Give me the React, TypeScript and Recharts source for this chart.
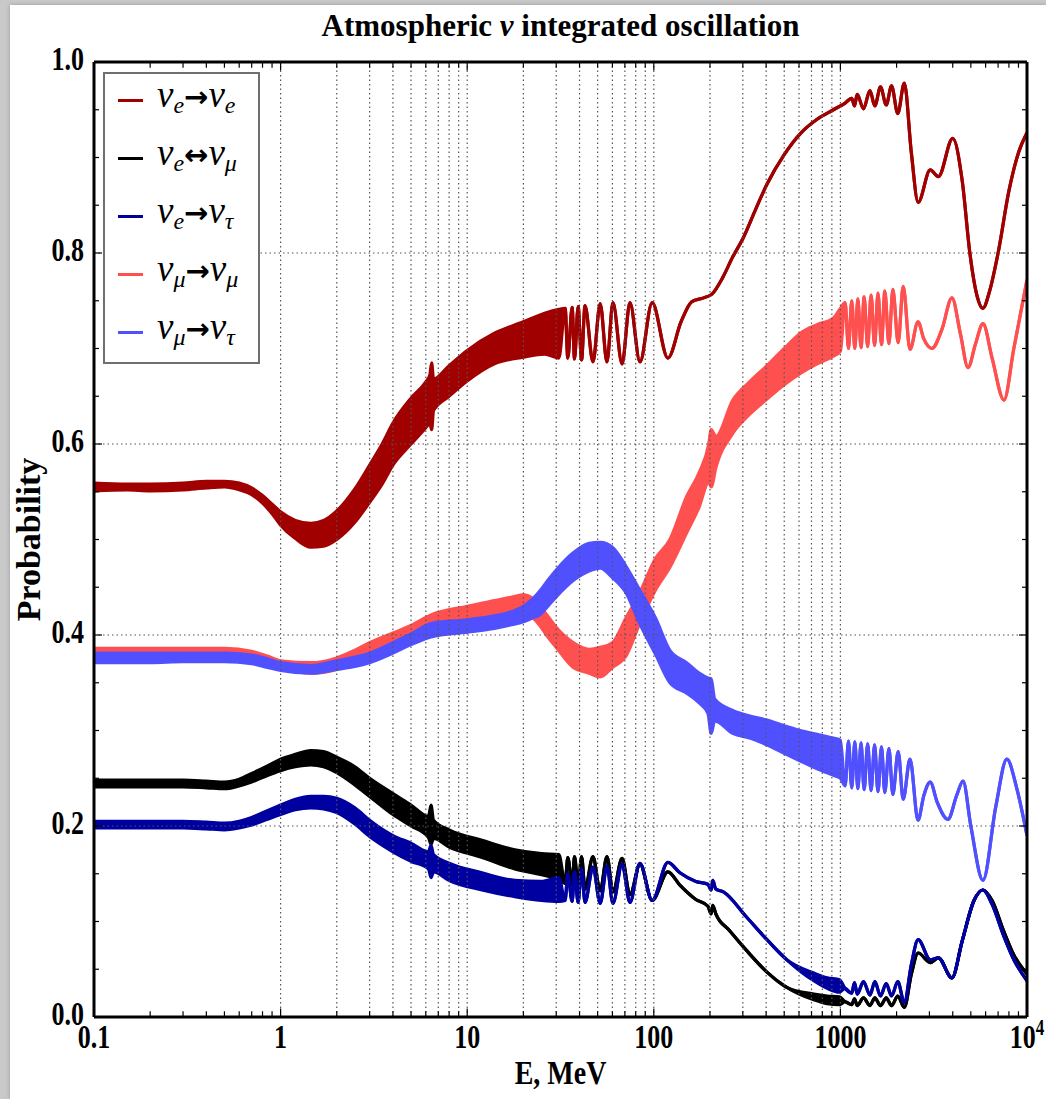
import React from "react";
import { ComposedChart, Area, XAxis, YAxis, ReferenceLine, Legend } from "recharts";

// [E in MeV, lower, upper] – upper omitted where the curve is a single line
type Pt = [number, number, number?];

const energyTicks = [0.1, 1, 10, 100, 1000, 10000];
const probTicks = [0, 0.2, 0.4, 0.6, 0.8, 1.0];
const probGrid = [0.2, 0.4, 0.6, 0.8];

const eeData: Pt[] = [
  [0.1, 0.551, 0.559], [0.15, 0.552, 0.558], [0.2, 0.551, 0.558], [0.3, 0.552, 0.559],
  [0.4, 0.554, 0.561], [0.5, 0.555, 0.561], [0.6, 0.552, 0.559], [0.7, 0.547, 0.554],
  [0.8, 0.538, 0.546], [0.9, 0.527, 0.537], [1.0, 0.515, 0.529], [1.2, 0.501, 0.52],
  [1.45, 0.492, 0.517], [1.7, 0.493, 0.52], [2.0, 0.5, 0.53], [2.5, 0.518, 0.553],
  [3.0, 0.539, 0.578], [3.5, 0.558, 0.6], [4.0, 0.578, 0.622], [5.0, 0.6, 0.648],
  [6.0, 0.617, 0.665], [6.3, 0.622, 0.672], [6.45, 0.615, 0.685], [6.6, 0.635, 0.668],
  [8.0, 0.65, 0.682], [10, 0.666, 0.698], [14, 0.684, 0.716], [20, 0.691, 0.728],
  [26, 0.694, 0.737], [31, 0.69, 0.741],
  [33.5, 0.742], [34.6, 0.69], [36.5, 0.743], [37.6, 0.689], [39.3, 0.744], [41, 0.688],
  [42.8, 0.745], [47.2, 0.686], [51.6, 0.747], [56.1, 0.686], [60.4, 0.748], [67.6, 0.684],
  [74.5, 0.748], [84.3, 0.686], [98, 0.748], [119, 0.69], [140, 0.728], [160, 0.749],
  [185, 0.753], [205, 0.757], [235, 0.775], [265, 0.796], [300, 0.815], [350, 0.845],
  [404, 0.872], [500, 0.903], [610, 0.925], [750, 0.94], [918, 0.95], [1060, 0.957],
  [1150, 0.962], [1190, 0.954], [1230, 0.966], [1330, 0.951], [1440, 0.97], [1530, 0.954],
  [1640, 0.974], [1760, 0.955], [1880, 0.975], [2030, 0.946], [2200, 0.978], [2400, 0.905],
  [2610, 0.853], [3030, 0.887], [3350, 0.88], [4000, 0.92], [4500, 0.875], [4940, 0.8],
  [5400, 0.755], [5800, 0.742], [6300, 0.76], [7000, 0.8], [8000, 0.865], [9000, 0.905],
  [10000, 0.926],
];

const emuData: Pt[] = [
  [0.1, 0.241, 0.248], [0.2, 0.241, 0.248], [0.3, 0.241, 0.248], [0.4, 0.24, 0.247],
  [0.5, 0.239, 0.246], [0.6, 0.242, 0.249], [0.7, 0.246, 0.255], [0.85, 0.253, 0.263],
  [1.0, 0.258, 0.27], [1.2, 0.262, 0.275], [1.45, 0.264, 0.279], [1.7, 0.262, 0.278],
  [2.0, 0.256, 0.272], [2.5, 0.243, 0.262], [3.0, 0.231, 0.25], [4.0, 0.212, 0.234],
  [5.0, 0.2, 0.222], [6.2, 0.188, 0.21], [6.4, 0.181, 0.222], [6.6, 0.187, 0.206],
  [8, 0.178, 0.196], [12, 0.167, 0.185], [18, 0.155, 0.175], [25, 0.149, 0.171],
  [31, 0.144, 0.17],
  [33.5, 0.14], [34.6, 0.167], [36.5, 0.138], [37.6, 0.168], [39.3, 0.136], [41, 0.168],
  [42.8, 0.134], [47.2, 0.168], [51.6, 0.132], [56.1, 0.168], [60.4, 0.131], [67.6, 0.166],
  [74.5, 0.128], [84.3, 0.16], [98, 0.122], [119, 0.152], [138, 0.138], [168, 0.123],
  [195, 0.116], [203, 0.108], [207, 0.117], [215, 0.108], [253, 0.091], [313, 0.07],
  [404, 0.047], [516, 0.031], [720, 0.018, 0.024], [850, 0.014, 0.022], [990, 0.013, 0.021],
  [1060, 0.016], [1150, 0.013], [1190, 0.019], [1230, 0.012], [1330, 0.02], [1440, 0.012],
  [1530, 0.02], [1640, 0.012], [1760, 0.02], [1880, 0.012], [2030, 0.022], [2200, 0.01],
  [2400, 0.045], [2610, 0.067], [3030, 0.057], [3350, 0.062], [3960, 0.041], [4500, 0.08],
  [5200, 0.122], [5800, 0.133], [6500, 0.122], [7500, 0.09], [8500, 0.065], [10000, 0.045],
];

const etauData: Pt[] = [
  [0.1, 0.198, 0.205], [0.2, 0.198, 0.205], [0.3, 0.198, 0.205], [0.4, 0.197, 0.204],
  [0.5, 0.196, 0.203], [0.6, 0.198, 0.205], [0.7, 0.201, 0.209], [0.85, 0.207, 0.216],
  [1.0, 0.212, 0.222], [1.2, 0.217, 0.228], [1.45, 0.219, 0.231], [1.7, 0.218, 0.231],
  [2.0, 0.214, 0.229], [2.5, 0.202, 0.219], [3.0, 0.189, 0.206], [4.0, 0.173, 0.19],
  [5.0, 0.163, 0.182], [6.2, 0.155, 0.173], [6.4, 0.146, 0.18], [6.6, 0.152, 0.17],
  [8, 0.143, 0.161], [12, 0.133, 0.151], [18, 0.126, 0.143], [25, 0.122, 0.142],
  [31, 0.121, 0.146],
  [33.5, 0.122], [34.6, 0.15], [36.5, 0.121], [37.6, 0.152], [39.3, 0.12], [41, 0.155],
  [42.8, 0.12], [47.2, 0.157], [51.6, 0.119], [56.1, 0.158], [60.4, 0.119], [67.6, 0.16],
  [74.5, 0.12], [84.3, 0.161], [98, 0.122], [119, 0.162], [138, 0.151], [168, 0.142],
  [195, 0.139], [203, 0.133], [207, 0.143], [215, 0.134], [236, 0.131], [313, 0.105],
  [404, 0.081], [516, 0.06], [720, 0.038, 0.046], [850, 0.03, 0.041], [990, 0.026, 0.039],
  [1060, 0.03], [1150, 0.025], [1190, 0.036], [1230, 0.024], [1330, 0.037], [1440, 0.023],
  [1530, 0.037], [1640, 0.022], [1760, 0.035], [1880, 0.022], [2030, 0.037], [2200, 0.015],
  [2400, 0.055], [2610, 0.081], [3030, 0.06], [3350, 0.062], [3960, 0.041], [4500, 0.08],
  [5200, 0.122], [5800, 0.133], [6500, 0.118], [7500, 0.085], [8500, 0.06], [10000, 0.038],
];

const mumuData: Pt[] = [
  [0.1, 0.376, 0.386], [0.2, 0.376, 0.386], [0.3, 0.377, 0.386], [0.5, 0.376, 0.386],
  [0.7, 0.373, 0.383], [0.85, 0.369, 0.378], [1.0, 0.365, 0.373], [1.45, 0.36, 0.371],
  [2.0, 0.364, 0.376], [2.5, 0.371, 0.384], [3.0, 0.379, 0.392], [4.0, 0.388, 0.402],
  [5.0, 0.396, 0.41], [6.4, 0.403, 0.421], [10, 0.414, 0.43], [14, 0.419, 0.436],
  [17.6, 0.423, 0.44], [20, 0.424, 0.442], [22.5, 0.418, 0.438], [24.5, 0.41, 0.43],
  [27, 0.398, 0.42], [30, 0.387, 0.408], [37, 0.366, 0.392], [45, 0.36, 0.385],
  [51.6, 0.356, 0.387], [60, 0.366, 0.392], [71, 0.378, 0.418], [84, 0.412, 0.444],
  [102, 0.447, 0.48], [122, 0.471, 0.5], [150, 0.507, 0.545], [175, 0.534, 0.57],
  [197, 0.56, 0.6], [203, 0.555, 0.615], [215, 0.575, 0.608], [265, 0.611, 0.646],
  [330, 0.632, 0.666], [404, 0.647, 0.682], [500, 0.662, 0.7], [610, 0.674, 0.716],
  [750, 0.684, 0.725], [918, 0.692, 0.732], [1000, 0.697, 0.742],
  [1060, 0.748], [1105, 0.7], [1150, 0.75], [1195, 0.7], [1240, 0.752], [1290, 0.701],
  [1340, 0.754], [1400, 0.702], [1460, 0.756], [1525, 0.703], [1590, 0.758], [1660, 0.704],
  [1730, 0.76], [1820, 0.705], [1910, 0.762], [2040, 0.706], [2170, 0.765], [2360, 0.699],
  [2606, 0.728], [2800, 0.71], [3093, 0.7], [3500, 0.72], [3960, 0.753], [4400, 0.715],
  [4830, 0.68], [5300, 0.705], [5810, 0.726], [6500, 0.69], [7530, 0.646], [8500, 0.7],
  [10000, 0.772],
];

const mutauData: Pt[] = [
  [0.1, 0.371, 0.381], [0.2, 0.371, 0.381], [0.3, 0.372, 0.381], [0.5, 0.372, 0.381],
  [0.7, 0.37, 0.379], [0.85, 0.366, 0.375], [1.0, 0.363, 0.371], [1.45, 0.36, 0.368],
  [2.0, 0.364, 0.373], [2.5, 0.367, 0.377], [3.0, 0.371, 0.381], [4.0, 0.381, 0.392],
  [5.0, 0.39, 0.401], [6.4, 0.398, 0.412], [10, 0.403, 0.416], [14, 0.407, 0.42],
  [17.6, 0.411, 0.425], [20, 0.414, 0.43], [22.5, 0.418, 0.438], [24.5, 0.421, 0.446],
  [27, 0.43, 0.457], [30, 0.44, 0.468], [37, 0.457, 0.486], [45, 0.467, 0.496],
  [51.6, 0.47, 0.497], [60, 0.46, 0.492], [71, 0.444, 0.472], [84, 0.412, 0.447],
  [102, 0.38, 0.418], [122, 0.35, 0.384], [150, 0.339, 0.371], [175, 0.329, 0.36],
  [195, 0.318, 0.355], [203, 0.297, 0.354], [212, 0.31, 0.333], [265, 0.297, 0.321],
  [330, 0.292, 0.315], [404, 0.285, 0.311], [500, 0.276, 0.305], [610, 0.268, 0.3],
  [750, 0.26, 0.296], [918, 0.253, 0.292], [1000, 0.25, 0.29],
  [1060, 0.242], [1105, 0.289], [1150, 0.24], [1195, 0.288], [1240, 0.239], [1290, 0.287],
  [1340, 0.238], [1400, 0.286], [1460, 0.237], [1525, 0.285], [1590, 0.236], [1660, 0.283],
  [1730, 0.235], [1820, 0.281], [1910, 0.233], [2040, 0.278], [2170, 0.228], [2360, 0.27],
  [2606, 0.206], [2800, 0.232], [3030, 0.246], [3300, 0.225], [3770, 0.207], [4200, 0.232],
  [4540, 0.247], [5000, 0.2], [5810, 0.143], [6800, 0.22], [7800, 0.27], [8800, 0.24],
  [10000, 0.19],
];

const series = [
  { key: "ee", data: eeData, color: "#a00000", from: "e", arrow: "→", to: "e" },
  { key: "emu", data: emuData, color: "#000000", from: "e", arrow: "↔", to: "μ" },
  { key: "etau", data: etauData, color: "#0000a0", from: "e", arrow: "→", to: "τ" },
  { key: "mumu", data: mumuData, color: "#ff5050", from: "μ", arrow: "→", to: "μ" },
  { key: "mutau", data: mutauData, color: "#5050ff", from: "μ", arrow: "→", to: "τ" },
];

const FONT = '"Liberation Serif", "Times New Roman", serif';
const W = 1046;
const H = 1099;

// log minor ticks and grid positions
const decades = [0.1, 1, 10, 100, 1000];
const minorE = decades.flatMap((d) => [2, 3, 4, 5, 6, 7, 8, 9].map((m) => m * d));
const gridE = [1, 10, 100, 1000, ...minorE.filter((e) => e > 1 && e < 1000)];
const probMinor = Array.from({ length: 21 }, (_, i) => i / 20);

const toRows = (pts: Pt[]) => pts.map(([E, lo, hi]) => ({ E, band: [lo, hi ?? lo] }));

function EnergyTick({ x, y, payload }: any) {
  const v = payload.value;
  return (
    <g transform={`translate(${x},${y}) scale(1,1.3)`}>
      <text textAnchor="middle" y={16} fontFamily={FONT} fontWeight="bold" fontSize={26} fill="#000">
        {v === 10000 ? (
          <>
            10<tspan dy={-10} fontSize={17}>4</tspan>
          </>
        ) : (
          String(v)
        )}
      </text>
    </g>
  );
}

function ProbTick({ x, y, payload }: any) {
  return (
    <g transform={`translate(${x},${y}) scale(1,1.3)`}>
      <text textAnchor="end" y={6.5} fontFamily={FONT} fontWeight="bold" fontSize={26} fill="#000">
        {payload.value.toFixed(1)}
      </text>
    </g>
  );
}

function LegendBox() {
  return (
    <div
      style={{
        position: "relative",
        width: 153,
        height: 288,
        border: "2px solid #6f6f6f",
        background: "#fff",
      }}
    >
      {series.map((s, i) => (
        <div
          key={s.key}
          style={{ position: "absolute", left: 0, top: 26 + i * 58 - 20, height: 40, display: "flex", alignItems: "center" }}
        >
          <div style={{ width: 25, height: 3, background: s.color, marginLeft: 13, marginRight: 14 }} />
          <span style={{ fontFamily: FONT, fontSize: 37, fontStyle: "italic", lineHeight: "36px", whiteSpace: "nowrap" }}>
            ν<sub style={{ fontSize: 24, verticalAlign: "-6px" }}>{s.from}</sub>
            <span style={{ fontStyle: "normal", fontWeight: "bold", fontFamily: '"DejaVu Sans", sans-serif', fontSize: 29 }}>
              {s.arrow}
            </span>
            ν<sub style={{ fontSize: 24, verticalAlign: "-6px" }}>{s.to}</sub>
          </span>
        </div>
      ))}
    </div>
  );
}

export default function App() {
  const tickMajor = 0.009;
  const tickMinor = 0.006;
  return (
    <div style={{ position: "absolute", left: 0, top: 0, width: W, height: H, background: "#c9c9c9", overflow: "hidden" }}>
      <div
        style={{
          position: "absolute",
          left: 10,
          top: 5,
          width: W - 10,
          height: H - 5,
          background: "#fff",
          boxShadow: "0 0 4px rgba(0,0,0,0.25)",
        }}
      />
      <div
        style={{
          position: "absolute",
          left: 94,
          width: 933,
          top: 7,
          textAlign: "center",
          fontFamily: FONT,
          fontWeight: "bold",
          fontSize: 31,
          lineHeight: "38px",
          whiteSpace: "nowrap",
        }}
      >
        Atmospheric <i>ν</i> integrated oscillation
      </div>
      <div style={{ position: "absolute", left: 0, top: 0 }}>
        <ComposedChart width={W} height={H} margin={{ top: 62, right: 19, bottom: 0, left: 0 }}>
          <XAxis
            dataKey="E"
            type="number"
            scale="log"
            domain={[0.1, 10000]}
            allowDataOverflow
            ticks={energyTicks}
            interval={0}
            axisLine={false}
            tickLine={false}
            tickMargin={4}
            height={82}
            tick={<EnergyTick />}
            label={{
              content: ({ viewBox }: any) => (
                <g transform={`translate(${viewBox.x + viewBox.width / 2},${viewBox.y + 67}) scale(1,1.2)`}>
                  <text textAnchor="middle" fontFamily={FONT} fontWeight="bold" fontSize={28} fill="#000">
                    E, MeV
                  </text>
                </g>
              ),
            }}
          />
          <YAxis
            type="number"
            domain={[0, 1]}
            ticks={probTicks}
            interval={0}
            axisLine={false}
            tickLine={false}
            tickMargin={4}
            width={94}
            tick={<ProbTick />}
            label={{
              content: ({ viewBox }: any) => (
                <g transform={`translate(${viewBox.x + 40},${viewBox.y + viewBox.height / 2}) rotate(-90)`}>
                  <text textAnchor="middle" fontFamily={FONT} fontWeight="bold" fontSize={34} fill="#000">
                    Probability
                  </text>
                </g>
              ),
            }}
          />

          {probGrid.map((p) => (
            <ReferenceLine key={`hg${p}`} y={p} stroke="#555" strokeWidth={1.2} strokeDasharray="1.5 3" />
          ))}
          {gridE.map((e) => (
            <ReferenceLine key={`vg${e}`} x={e} stroke="#555" strokeWidth={1.2} strokeDasharray="1.5 3" />
          ))}

          {series.map((s) => (
            <Area
              key={s.key}
              data={toRows(s.data)}
              dataKey="band"
              type="monotone"
              stroke={s.color}
              strokeWidth={3.2}
              fill={s.color}
              fillOpacity={1}
              dot={false}
              activeDot={false}
              legendType="none"
              isAnimationActive={false}
            />
          ))}

          {[...energyTicks, ...minorE].map((e) => {
            const len = energyTicks.includes(e) ? tickMajor : tickMinor;
            return (
              <React.Fragment key={`xt${e}`}>
                <ReferenceLine segment={[{ x: e, y: 0 }, { x: e, y: len }]} stroke="#000" strokeWidth={1.2} />
                <ReferenceLine segment={[{ x: e, y: 1 }, { x: e, y: 1 - len }]} stroke="#000" strokeWidth={1.2} />
              </React.Fragment>
            );
          })}
          {probMinor.map((p) => {
            const f = probTicks.some((t) => Math.abs(t - p) < 1e-9) ? 1.104 : 1.064;
            return (
              <React.Fragment key={`yt${p}`}>
                <ReferenceLine segment={[{ x: 0.1, y: p }, { x: 0.1 * f, y: p }]} stroke="#000" strokeWidth={1.2} />
                <ReferenceLine segment={[{ x: 10000, y: p }, { x: 10000 / f, y: p }]} stroke="#000" strokeWidth={1.2} />
              </React.Fragment>
            );
          })}

          <ReferenceLine y={0} stroke="#000" strokeWidth={3} />
          <ReferenceLine y={1} stroke="#000" strokeWidth={3} />
          <ReferenceLine x={0.1} stroke="#000" strokeWidth={3} />
          <ReferenceLine x={10000} stroke="#000" strokeWidth={3} />

          <Legend
            layout="vertical"
            align="center"
            verticalAlign="middle"
            wrapperStyle={{ left: 103, top: 72, width: 157, height: 292 }}
            content={() => <LegendBox />}
          />
        </ComposedChart>
      </div>
    </div>
  );
}
